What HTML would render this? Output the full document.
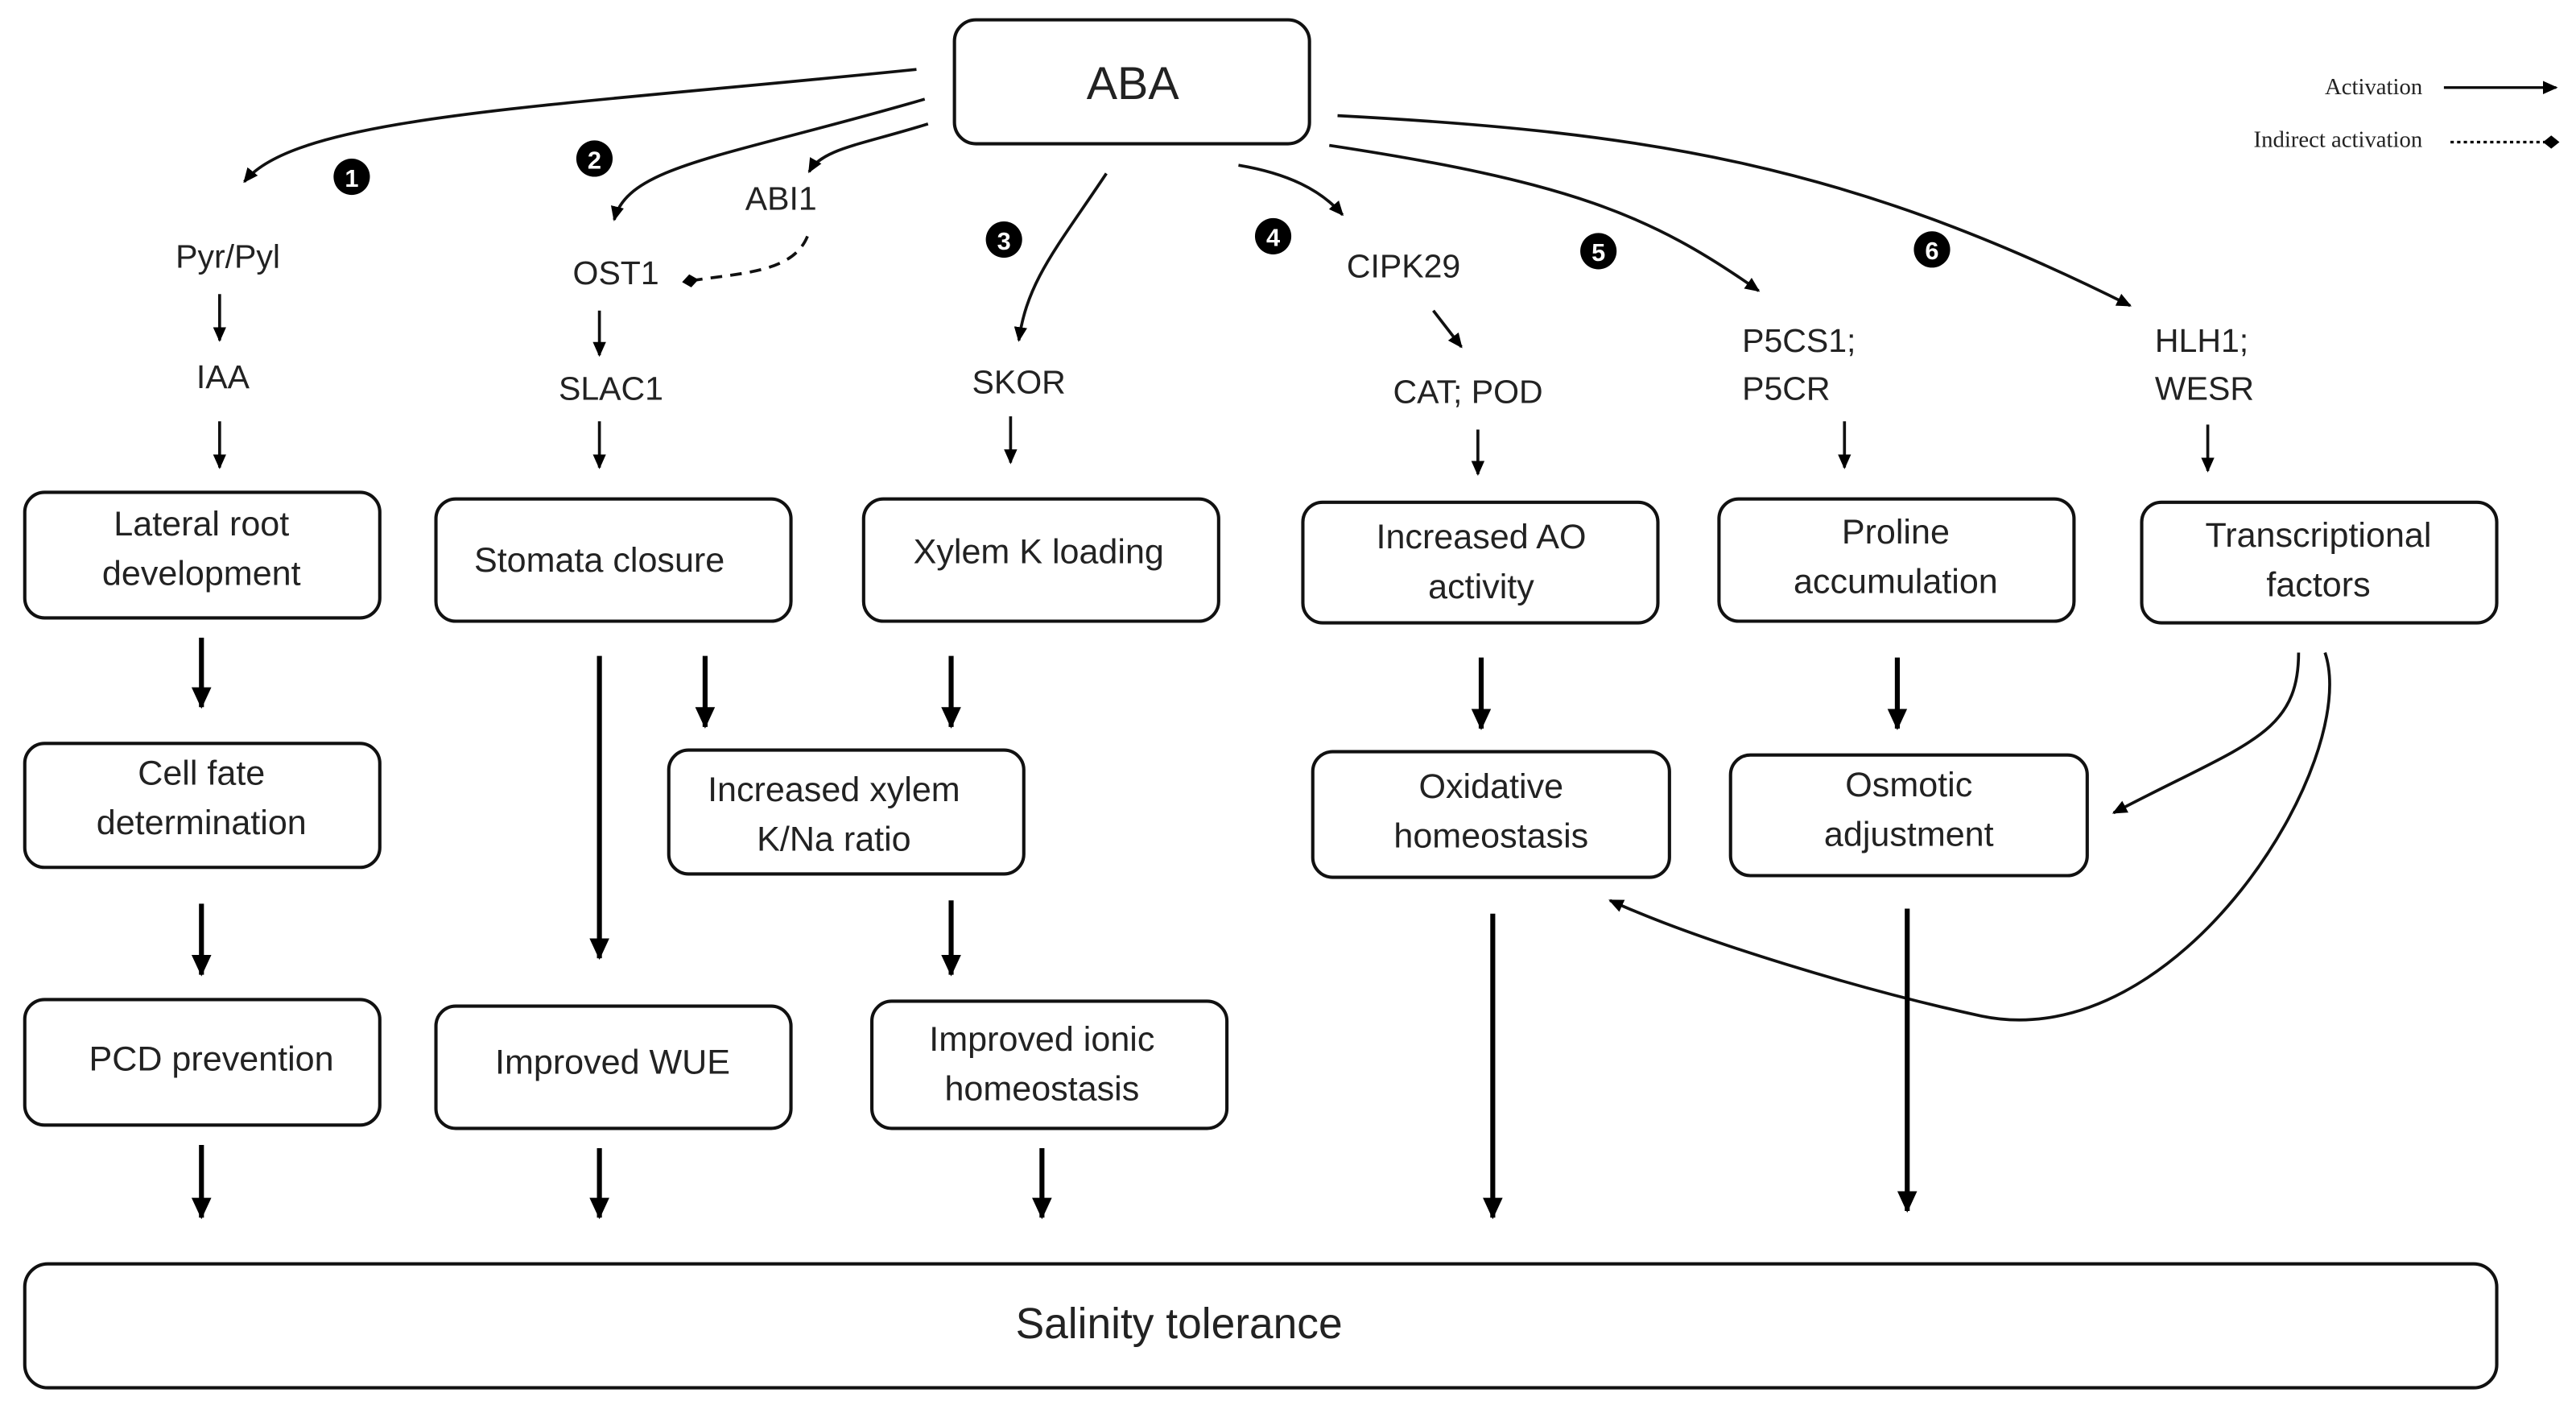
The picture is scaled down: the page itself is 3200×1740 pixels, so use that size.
<!DOCTYPE html>
<html><head><meta charset="utf-8"><style>
html,body{margin:0;padding:0;background:#fff;}
svg{display:block;}
text{font-family:"Liberation Sans",sans-serif;fill:#222;}
</style></head><body>
<svg width="3200" height="1740" viewBox="0 0 1560 848" preserveAspectRatio="none" xmlns="http://www.w3.org/2000/svg">
<defs>
<marker id="a" markerWidth="10" markerHeight="10" refX="8" refY="5" orient="auto" markerUnits="userSpaceOnUse"><path d="M0,1 L9,5 L0,9 Z" fill="#000"/></marker>
<marker id="b" markerWidth="14" markerHeight="14" refX="12" refY="7" orient="auto" markerUnits="userSpaceOnUse"><path d="M0,1 L13,7 L0,13 Z" fill="#000"/></marker>
<marker id="d" markerWidth="10" markerHeight="10" refX="5" refY="5" orient="auto" markerUnits="userSpaceOnUse"><path d="M0,5 L5,1 L10,5 L5,9 Z" fill="#000"/></marker>
</defs>
<g fill="none" stroke="#111" stroke-width="2">
<rect x="578" y="12" width="215" height="75" rx="13"/>
<rect x="15" y="298" width="215" height="76" rx="12"/>
<rect x="264" y="302" width="215" height="74" rx="12"/>
<rect x="523" y="302" width="215" height="74" rx="12"/>
<rect x="789" y="304" width="215" height="73" rx="12"/>
<rect x="1041" y="302" width="215" height="74" rx="12"/>
<rect x="1297" y="304" width="215" height="73" rx="12"/>
<rect x="15" y="450" width="215" height="75" rx="12"/>
<rect x="405" y="454" width="215" height="75" rx="12"/>
<rect x="795" y="455" width="216" height="76" rx="12"/>
<rect x="1048" y="457" width="216" height="73" rx="12"/>
<rect x="15" y="605" width="215" height="76" rx="12"/>
<rect x="264" y="609" width="215" height="74" rx="12"/>
<rect x="528" y="606" width="215" height="77" rx="12"/>
<rect x="15" y="765" width="1497" height="75" rx="14"/>
</g>
<g stroke="#111" stroke-width="1.8" fill="none" marker-end="url(#a)">
<line x1="133" y1="178" x2="133" y2="206"/>
<line x1="133" y1="255" x2="133" y2="283"/>
<line x1="363" y1="188" x2="363" y2="215"/>
<line x1="363" y1="255" x2="363" y2="283"/>
<line x1="612" y1="252" x2="612" y2="280"/>
<line x1="868" y1="188" x2="885" y2="210"/>
<line x1="895" y1="260" x2="895" y2="287"/>
<line x1="1117" y1="255" x2="1117" y2="283"/>
<line x1="1337" y1="257" x2="1337" y2="285"/>
<path d="M555,42 C330,65 180,70 148,110"/>
<path d="M560,60 C440,95 380,100 372,133"/>
<path d="M562,75 C520,88 498,90 490,104"/>
<path d="M670,105 C640,150 622,170 617,206"/>
<path d="M750,100 C780,105 800,115 813,130"/>
<path d="M805,88 C950,110 1000,130 1065,176"/>
<path d="M810,70 C1000,80 1120,100 1290,185"/>
<path d="M1392,395 C1392,445 1360,450 1280,492"/>
<path d="M1408,395 C1430,460 1320,640 1200,615 C1130,600 1030,570 975,545"/>
</g>
<path d="M489,143 C480,165 450,165 418,170" stroke="#111" stroke-width="1.8" fill="none" stroke-dasharray="7,5" marker-end="url(#d)"/>
<g stroke="#000" stroke-width="3" fill="none" marker-end="url(#b)">
<line x1="122" y1="386" x2="122" y2="428"/>
<line x1="122" y1="547" x2="122" y2="590"/>
<line x1="122" y1="693" x2="122" y2="737"/>
<line x1="363" y1="397" x2="363" y2="580"/>
<line x1="427" y1="397" x2="427" y2="440"/>
<line x1="576" y1="397" x2="576" y2="440"/>
<line x1="576" y1="545" x2="576" y2="590"/>
<line x1="631" y1="695" x2="631" y2="737"/>
<line x1="363" y1="695" x2="363" y2="737"/>
<line x1="897" y1="398" x2="897" y2="441"/>
<line x1="904" y1="553" x2="904" y2="737"/>
<line x1="1149" y1="398" x2="1149" y2="441"/>
<line x1="1155" y1="550" x2="1155" y2="733"/>
</g>
<g font-size="20" text-anchor="middle">
<text x="138" y="162">Pyr/Pyl</text>
<text x="135" y="235">IAA</text>
<text x="373" y="172">OST1</text>
<text x="370" y="242">SLAC1</text>
<text x="473" y="127">ABI1</text>
<text x="617" y="238">SKOR</text>
<text x="850" y="168">CIPK29</text>
<text x="889" y="244">CAT; POD</text>
</g>
<g font-size="20">
<text x="1055" y="213">P5CS1;</text>
<text x="1055" y="242">P5CR</text>
<text x="1305" y="213">HLH1;</text>
<text x="1305" y="242">WESR</text>
</g>
<g font-size="21" text-anchor="middle">
<text x="686" y="60" font-size="28">ABA</text>
<text x="122" y="324">Lateral root</text>
<text x="122" y="354">development</text>
<text x="363" y="346">Stomata closure</text>
<text x="629" y="341">Xylem K loading</text>
<text x="897" y="332">Increased AO</text>
<text x="897" y="362">activity</text>
<text x="1148" y="329">Proline</text>
<text x="1148" y="359">accumulation</text>
<text x="1404" y="331">Transcriptional</text>
<text x="1404" y="361">factors</text>
<text x="122" y="475">Cell fate</text>
<text x="122" y="505">determination</text>
<text x="505" y="485">Increased xylem</text>
<text x="505" y="515">K/Na ratio</text>
<text x="903" y="483">Oxidative</text>
<text x="903" y="513">homeostasis</text>
<text x="1156" y="482">Osmotic</text>
<text x="1156" y="512">adjustment</text>
<text x="128" y="648">PCD prevention</text>
<text x="371" y="650">Improved WUE</text>
<text x="631" y="636">Improved ionic</text>
<text x="631" y="666">homeostasis</text>
<text x="714" y="810" font-size="26">Salinity tolerance</text>
</g>
<g>
<circle cx="213" cy="107" r="11" fill="#000"/><text x="213" y="113" font-size="15" font-weight="bold" text-anchor="middle" style="fill:#fff">1</text>
<circle cx="360" cy="96" r="11" fill="#000"/><text x="360" y="102" font-size="15" font-weight="bold" text-anchor="middle" style="fill:#fff">2</text>
<circle cx="608" cy="145" r="11" fill="#000"/><text x="608" y="151" font-size="15" font-weight="bold" text-anchor="middle" style="fill:#fff">3</text>
<circle cx="771" cy="143" r="11" fill="#000"/><text x="771" y="149" font-size="15" font-weight="bold" text-anchor="middle" style="fill:#fff">4</text>
<circle cx="968" cy="152" r="11" fill="#000"/><text x="968" y="158" font-size="15" font-weight="bold" text-anchor="middle" style="fill:#fff">5</text>
<circle cx="1170" cy="151" r="11" fill="#000"/><text x="1170" y="157" font-size="15" font-weight="bold" text-anchor="middle" style="fill:#fff">6</text>
</g>
<g font-size="14" text-anchor="end" style="font-family:'Liberation Serif',serif">
<text x="1467" y="57" style="font-family:'Liberation Serif',serif">Activation</text>
<text x="1467" y="89" style="font-family:'Liberation Serif',serif">Indirect activation</text>
</g>
<line x1="1480" y1="53" x2="1548" y2="53" stroke="#000" stroke-width="1.6" marker-end="url(#a)"/>
<line x1="1484" y1="86" x2="1545" y2="86" stroke="#000" stroke-width="1.6" stroke-dasharray="2,2" marker-end="url(#d)"/>
</svg>
</body></html>
